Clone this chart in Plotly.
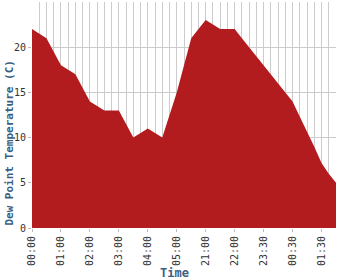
import plotly.graph_objects as go

times = ["00:00", "00:15", "00:30", "00:45", "01:00", "01:15", "01:30", "01:45",
         "02:00", "02:15", "02:30", "02:45", "03:00", "03:15", "03:30", "03:45",
         "04:00", "04:15", "04:30", "04:45", "05:00", "05:15", "20:30", "20:45",
         "21:00", "21:15", "21:30", "21:45", "22:00", "22:20", "22:45", "23:10",
         "23:30", "23:45", "00:00", "00:15", "00:30", "00:45", "01:00", "01:15",
         "01:30", "01:45", "02:00"]
dew_point = [22, 21.5, 21, 19.5, 18, 17.5, 17, 15.5, 14, 13.5, 13, 13, 13, 11.5,
             10, 10.5, 11, 10.5, 10, 12.5, 15, 18, 21, 22, 23, 22.5, 22, 22, 22,
             21, 20, 19, 18, 17, 16, 15, 14, 12.3, 10.7, 9, 7.2, 6, 5]
ytick_vals = [0, 5, 10, 15, 20]

idx = list(range(len(times)))
tick_idx = idx[::4]

fig = go.Figure()
fig.add_trace(go.Scatter(
    x=idx, y=dew_point, mode="lines", fill="tozeroy",
    line=dict(width=0, color="#B31C1E"), fillcolor="#B31C1E",
    hoverinfo="skip", showlegend=False,
))

tick_font = dict(family="DejaVu Sans Mono", size=10, color="#333333")
fig.update_layout(
    width=350, height=280,
    margin=dict(l=32, r=14, t=2, b=52),
    paper_bgcolor="white", plot_bgcolor="white",
    xaxis=dict(
        range=[0, len(times) - 1],
        tickmode="array", tickvals=tick_idx,
        ticktext=[times[i] for i in tick_idx],
        tickangle=-90, tickfont=tick_font,
        ticks="outside", ticklen=3, tickcolor="#bbbbbb",
        showgrid=True, gridcolor="#cccccc", gridwidth=1,
        minor=dict(dtick=1, tick0=0, showgrid=True, gridcolor="#cccccc", gridwidth=1, ticks=""),
        zeroline=False, showline=False,
    ),
    yaxis=dict(
        range=[0, 25],
        tickmode="array", tickvals=ytick_vals,
        tickfont=tick_font,
        ticks="outside", ticklen=3, tickcolor="#bbbbbb",
        showgrid=True, gridcolor="#cccccc", gridwidth=1,
        zeroline=False, showline=False,
    ),
    annotations=[
        dict(text="<b>Dew Point Temperature (C)</b>", xref="paper", yref="paper",
             x=-0.077, y=0.376, textangle=-90, showarrow=False,
             xanchor="center", yanchor="middle",
             font=dict(family="DejaVu Sans Mono", size=11, color="#3a5f85")),
        dict(text="<b>Time</b>", xref="paper", yref="paper",
             x=0.470, y=-0.197, showarrow=False,
             xanchor="center", yanchor="middle",
             font=dict(family="DejaVu Sans Mono", size=12, color="#3a5f85")),
    ],
)

fig.write_html("out.html")
